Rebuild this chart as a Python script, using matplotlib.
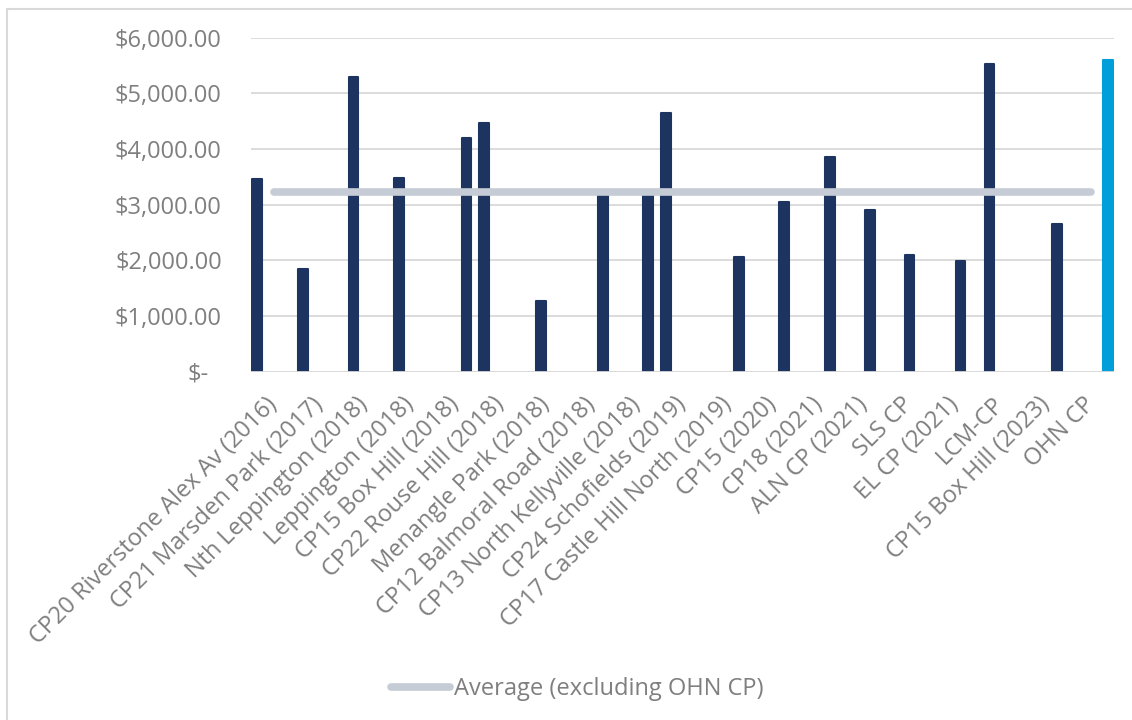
import matplotlib
matplotlib.use("Agg")
import matplotlib.pyplot as plt
from matplotlib.patches import Rectangle
from matplotlib.lines import Line2D

# Custo por vaga em cada estacionamento (AUD)
categories = [
    "CP20 Riverstone Alex Av (2016)", "CP21 Marsden Park (2017)",
    "Nth Leppington (2018)", "Leppington (2018)", "CP15 Box Hill (2018)",
    "CP22 Rouse Hill (2018)", "Menangle Park (2018)",
    "CP12 Balmoral Road (2018)", "CP13 North Kellyville (2018)",
    "CP24 Schofields (2019)", "CP17 Castle Hill North (2019)",
    "CP15 (2020)", "CP18 (2021)", "ALN CP (2021)", "SLS CP",
    "EL CP (2021)", "LCM-CP", "CP15 Box Hill (2023)", "OHN CP",
]
values = [3456, 1850, 5288, 3485, 4203, 4462, 1275, 3180, 3180, 4641,
          2066, 3048, 3851, 2899, 2090, 1988, 5527, 2653, 5599]
# serie (grupo do cluster) a que cada barra pertence, 0..6
series_idx = [0, 0, 1, 1, 5, 0, 2, 5, 5, 0, 5, 5, 5, 4, 3, 4, 1, 5, 6]
highlight = "OHN CP"
average_excl = 3225
avg_label = "Average (excluding OHN CP)"
yticks = [0, 1000, 2000, 3000, 4000, 5000, 6000]

navy = "#1D3461"
cyan = "#009FDA"
avg_col = "#C6CCD6"
grid_col = "#D9D9D9"
txt_col = "#7F7F7F"

plt.rcParams['font.family'] = ['Open Sans', 'DejaVu Sans']
fs = 17

fig = plt.figure(figsize=(11.32, 7.2), dpi=100)
ax = fig.add_axes([251/1132, 1 - 371.7/720, 863/1132, 334/720])

# moldura da area do grafico
fig.patches.append(Rectangle((7/1132, -0.2), 1.2, 1 - 9/720 + 0.2,
                             transform=fig.transFigure, fill=False,
                             edgecolor=grid_col, linewidth=1.5))

n_series = 7
step = 0.121
width = 0.215
x = range(len(categories))
for i, (cat, v, s) in enumerate(zip(categories, values, series_idx)):
    col = cyan if cat == highlight else navy
    xpos = i + (s - (n_series - 1) / 2) * step
    ax.bar(xpos, v, width=width, color=col, edgecolor=col, linewidth=1.5,
           joinstyle='round', zorder=2)

ax.plot([0, len(categories) - 1], [average_excl, average_excl], color=avg_col,
        linewidth=5.5, solid_capstyle='round', zorder=4)

ax.axhline(0, color=grid_col, linewidth=1.3, zorder=3)
ax.set_xlim(-0.5, len(categories) - 0.5)
ax.set_ylim(0, 6000)
ax.set_yticks(yticks)
ax.set_yticklabels(["$-" if t == 0 else f"${t:,.2f}" for t in yticks])
ax.yaxis.grid(True, color=grid_col, linewidth=1.3, zorder=0)
ax.set_axisbelow(True)
for sp in ax.spines.values():
    sp.set_visible(False)
ax.tick_params(axis='both', length=0, labelcolor=txt_col, labelsize=fs)
ax.tick_params(axis='y', pad=21)
ax.get_yticklabels()[0].set_x(-0.015)

ax.set_xticks(list(x))
ax.set_xticklabels(categories, rotation=45, ha='right', va='center',
                   rotation_mode='anchor')
ax.tick_params(axis='x', pad=21)

handle = Line2D([], [], color=avg_col, linewidth=5.5, solid_capstyle='round')
fig.legend(handles=[handle], labels=[avg_label], loc='center',
           bbox_to_anchor=(577/1132, 1 - 689/720), frameon=False,
           fontsize=fs, labelcolor=txt_col, handlelength=2.5,
           handletextpad=0.15)

fig.savefig("out.png", dpi=100, facecolor='white')
